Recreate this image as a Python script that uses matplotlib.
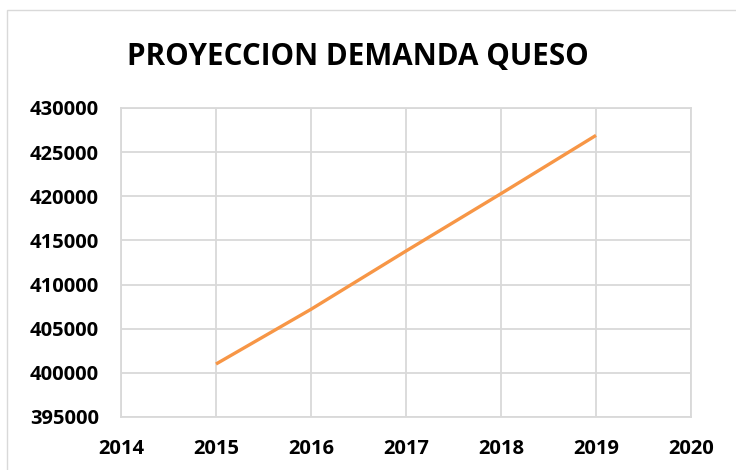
import matplotlib
matplotlib.use("Agg")
import matplotlib.pyplot as plt
from matplotlib.patches import Rectangle

years = [2015, 2016, 2017, 2018, 2019]
demanda = [401000, 407200, 413800, 420300, 426900]
x_ticks = [2014, 2015, 2016, 2017, 2018, 2019, 2020]
y_ticks = [395000, 400000, 405000, 410000, 415000, 420000, 425000, 430000]
title = "PROYECCION DEMANDA QUESO"

plt.rcParams['font.family'] = ['Open Sans', 'DejaVu Sans']

W, H = 736, 470
fig = plt.figure(figsize=(W / 100, H / 100), dpi=100)
fig.patch.set_facecolor("white")

# outer chart frame
fig.patches.append(Rectangle((7 / W, -0.1), 1.2, (H - 10) / H + 0.1,
                             transform=fig.transFigure, fill=False,
                             edgecolor="#d9d9d9", linewidth=1.0))

ax = fig.add_axes([121 / W, (H - 417) / H, (691 - 121) / W, (417 - 108) / H])
ax.plot(years, demanda, color="#f79646", linewidth=2.4, solid_capstyle="butt")

ax.set_xlim(2014, 2020)
ax.set_ylim(395000, 430000)
ax.set_xticks(x_ticks)
ax.set_yticks(y_ticks)
ax.set_xticklabels([str(v) for v in x_ticks], fontsize=14.5, fontweight="bold")
ax.set_yticklabels([str(v) for v in y_ticks], fontsize=14.5, fontweight="bold")
ax.tick_params(length=0, pad=16)
ax.grid(True, color="#d9d9d9", linewidth=1.3)
ax.set_axisbelow(True)
for s in ax.spines.values():
    s.set_color("#d9d9d9")
    s.set_linewidth(1.3)

fig.text(358 / W, 1 - 65 / H, title, ha="center", va="baseline",
         fontsize=21.3, fontweight="bold")

fig.savefig("out.png", dpi=100)
